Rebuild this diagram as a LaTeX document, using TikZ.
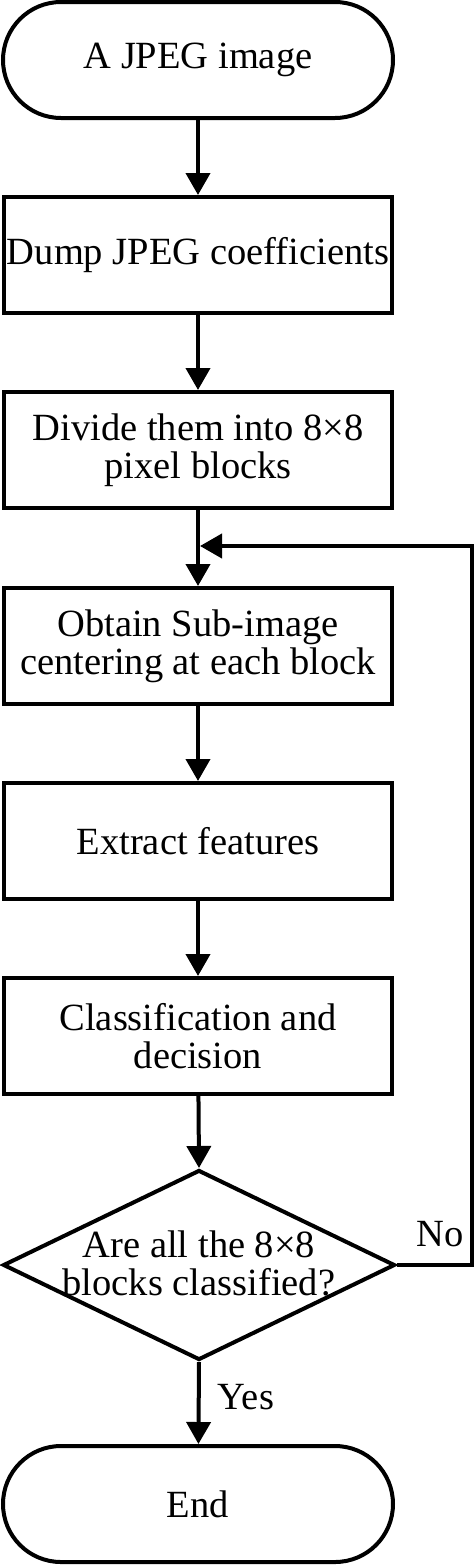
\documentclass[tikz,border=0pt]{standalone}
\usepackage{fontspec}
\setmainfont{Liberation Serif}
\usetikzlibrary{shapes.geometric,arrows.meta}
\begin{document}
\begin{tikzpicture}[x=1pt,y=-1pt,
  every node/.style={font=\fontsize{38.5}{38}\selectfont, align=center, inner sep=0pt},
  stepbox/.style={draw, line width=4pt, minimum width=388pt, minimum height=116pt},
  termbox/.style={draw, line width=4pt, minimum width=390pt, minimum height=116pt, rounded corners=58pt},
  decbox/.style={draw, diamond, line width=4pt, minimum width=392pt, minimum height=190pt},
  conn/.style={line width=4pt, -{Triangle[width=24pt,length=22pt]}}]
\useasboundingbox (0,0) rectangle (474,1566);
\node[termbox] (s) at (198,60) {A JPEG image};
\node[stepbox] (b2) at (198,255) {Dump JPEG coefficients};
\node[stepbox] (b3) at (198,450) {Divide them into 8×8\\pixel blocks};
\node[stepbox] (b4) at (198,646) {Obtain Sub-image\\centering at each block};
\node[stepbox] (b5) at (198,841) {Extract features};
\node[stepbox] (b6) at (198,1036) {Classification and\\decision};
\node[decbox] (d) at (199,1265) {};
\node (dt) at (199,1263) {Are all the 8×8\\blocks classified?};
\node[termbox] (e) at (198,1504) {End};
\coordinate (r1) at (472,1265);
\coordinate (r2) at (472,546);
\coordinate (m) at (200,546);
\draw[conn] (s) -- (b2);
\draw[conn] (b2) -- (b3);
\draw[conn] (b3) -- (b4);
\draw[conn] (b4) -- (b5);
\draw[conn] (b5) -- (b6);
\draw[conn] (b6) -- (d.north);
\draw[conn] (d.south) -- (e);
\draw[conn] (d.east) -- (r1) -- (r2) -- (m);
\node (no) at (440,1234) {No};
\node (yes) at (246,1397) {Yes};
\end{tikzpicture}
\end{document}
